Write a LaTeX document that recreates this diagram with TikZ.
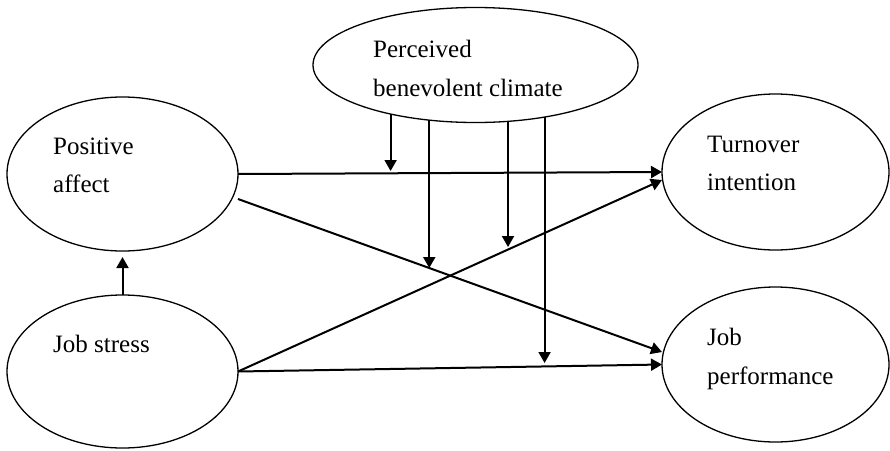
\documentclass[tikz,border=0pt]{standalone}
\usepackage{fontspec}
\setmainfont{Liberation Serif}
\usetikzlibrary{shapes.geometric,arrows.meta}
\begin{document}
\begin{tikzpicture}[x=1pt,y=-1pt,
  construct/.style={ellipse,draw,line width=1.3pt,inner sep=0pt,outer sep=0pt},
  lbl/.style={anchor=base west,inner sep=0pt,font=\fontsize{25}{38}\selectfont},
  arr/.style={line width=2pt,-{Triangle[length=11pt,width=12pt]}}]
\useasboundingbox (0,0) rectangle (890,450);
% ellipses
\node[construct,minimum width=231pt,minimum height=154pt] (pa) at (122.5,174) {};
\node[construct,minimum width=231pt,minimum height=153pt] (js) at (122.5,371.5) {};
\node[construct,minimum width=227pt,minimum height=156pt] (ti) at (775.5,172) {};
\node[construct,minimum width=227pt,minimum height=155pt] (jp) at (775.5,364.5) {};
\node[construct,minimum width=325pt,minimum height=115pt] (pbc) at (475.5,65) {};
% texts
\node[lbl] (t1) at (53,154) {Positive};
\node[lbl] (t2) at (53,192) {affect};
\node[lbl] (t3) at (373,57) {Perceived};
\node[lbl] (t4) at (373,96) {benevolent climate};
\node[lbl] (t5) at (53,352) {Job stress};
\node[lbl] (t6) at (707,152) {Turnover};
\node[lbl] (t7) at (707,190) {intention};
\node[lbl] (t8) at (707,345) {Job};
\node[lbl] (t9) at (707,384) {performance};
% moderation targets
\coordinate (m1) at (392,171);
\coordinate (m2) at (430,268);
\coordinate (m3) at (508,247);
\coordinate (m4) at (546,363);
% main paths
\draw[arr] (pa.east) -- (ti.west);
\draw[arr] ([yshift=-25pt]pa.east) -- ([yshift=12.5pt]jp.west);
\draw[arr] (js.east) -- ([yshift=-8pt]ti.west);
\draw[arr] (js.east) -- (jp.west);
\draw[arr] (js.north) -- ([yshift=-6pt]pa.south);
% moderation arrows
\draw[arr] (pbc.210.6) -- (pbc.210.6 |- m1);
\draw[arr] (pbc.230.5) -- (pbc.230.5 |- m2);
\draw[arr] (pbc.300) -- (pbc.300 |- m3);
\draw[arr] (pbc.323.7) -- (pbc.323.7 |- m4);
\end{tikzpicture}
\end{document}
